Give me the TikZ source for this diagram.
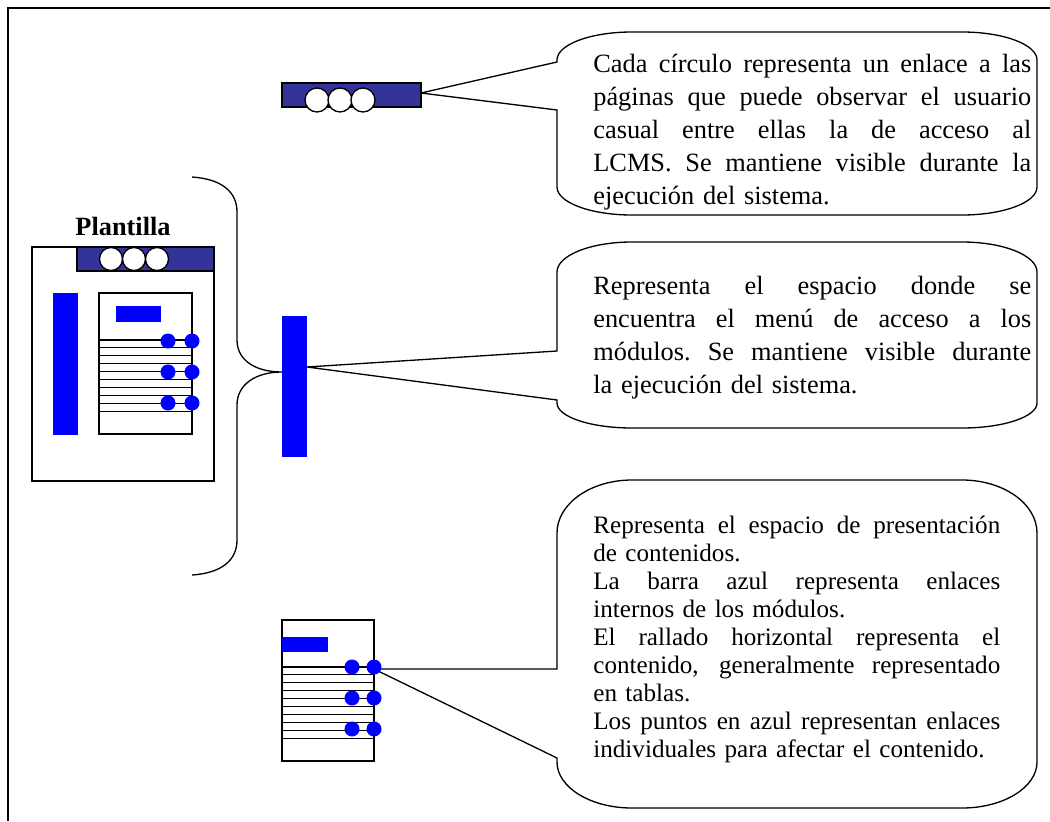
\documentclass[tikz,border=0pt]{standalone}
\usepackage{fontspec}
\setmainfont{Liberation Serif}
\definecolor{barblue}{HTML}{333399}
\definecolor{linkblue}{HTML}{0000FF}
\newlength{\bubblewidth}
\newcommand{\justline}[1]{\leavevmode\hbox to \bubblewidth{\spaceskip=.25em plus 1fil\xspaceskip=.25em plus 1fil\relax #1}}
\tikzset{
  calltext/.style={anchor=north west, inner sep=0pt, align=left, text width=#1,
    execute at begin node={\setlength{\bubblewidth}{#1}}, font=\fontsize{15}{18.7}\selectfont},
  bubble/.style={draw, fill=white, line width=0.75pt},
  pageframe/.style={draw, line width=0.9pt},
  stripe/.style={line width=0.6pt},
  navdot/.style={draw, fill=white, line width=0.75pt},
}
\begin{document}
\begin{tikzpicture}[x=0.02cm, y=-0.02cm]

    \useasboundingbox (0,0) rectangle (1050,821);
    \draw[line width=1.4pt] (1050,8) -- (8,8) -- (8,821);

    % tips of the callouts
    \coordinate (navtip) at (421,93);
    \coordinate (menutip) at (307,367);
    \coordinate (contip) at (374,669);

    % callouts
    \draw[bubble] (557,60) .. controls (557,44.5) and (590.6,32) .. (632,32) -- (962,32)
        .. controls (1003.4,32) and (1037,44.5) .. (1037,60) -- (1037,187)
        .. controls (1037,202.5) and (1003.4,215) .. (962,215) -- (632,215)
        .. controls (590.6,215) and (557,202.5) .. (557,187) -- (557,110) -- (navtip) -- (557,62) -- cycle;
    \node[calltext=8.76cm] (navtext) at (593,54) {%
        \justline{Cada círculo representa un enlace a las}\\
        \justline{páginas que puede observar el usuario}\\
        \justline{casual entre ellas la de acceso al}\\
        \justline{LCMS. Se mantiene visible durante la}\\
        ejecución del sistema.};

    \draw[bubble] (557,272) .. controls (557,255.4) and (590.6,242) .. (632,242) -- (962,242)
        .. controls (1003.4,242) and (1037,255.4) .. (1037,272) -- (1037,403)
        .. controls (1037,416.8) and (1003.4,428) .. (962,428) -- (632,428)
        .. controls (590.6,428) and (557,416.8) .. (557,403) -- (557,400) -- (menutip) -- (557,351) -- cycle;
    \node[calltext=8.76cm] (menutext) at (593,276) {%
        \justline{Representa el espacio donde se}\\
        \justline{encuentra el menú de acceso a los}\\
        \justline{módulos. Se mantiene visible durante}\\
        la ejecución del sistema.};

    \draw[bubble] (557,533) .. controls (557,503.7) and (590.6,480) .. (632,480) -- (962,480)
        .. controls (1003.4,480) and (1037,503.7) .. (1037,533) -- (1037,762)
        .. controls (1037,787.4) and (1003.4,808) .. (962,808) -- (632,808)
        .. controls (590.6,808) and (557,787.4) .. (557,762) -- (557,758) -- (contip) -- (557,669) -- cycle;
    \node[calltext=8.14cm, font=\fontsize{14.3}{15.9}\selectfont] (context) at (593,516) {%
        \justline{Representa el espacio de presentación}\\
        de contenidos.\\
        \justline{La barra azul representa enlaces}\\
        internos de los módulos.\\
        \justline{El rallado horizontal representa el}\\
        \justline{contenido, generalmente representado}\\
        en tablas.\\
        \justline{Los puntos en azul representan enlaces}\\
        individuales para afectar el contenido.};

    % plantilla
    \node[font=\fontsize{15}{18}\selectfont\bfseries] (title) at (123,226) {Plantilla};
    \draw[pageframe] (32,247) rectangle (214,481);
    \draw[pageframe, fill=barblue] (77,247) rectangle (214,271);
    \foreach \cx in {111,134,157}
        \draw[navdot] (\cx,259) circle (11.5);
    \fill[linkblue] (53,293) rectangle (78,435);
    \draw[pageframe] (99,293) rectangle (192,434);
    \fill[linkblue] (116,306) rectangle (161,322);
    \foreach \k in {0,...,9}
        \draw[stripe] (99,340+7.9*\k) -- (192,340+7.9*\k);
    \foreach \r in {341,372,403} {
        \fill[linkblue] (168,\r) circle (7.5);
        \fill[linkblue] (192,\r) circle (7.5);
    }

    % brace
    \draw[line width=0.75pt] (192,177) .. controls (222,179) and (237,192) .. (237,212) -- (237,340)
        .. controls (237,360) and (255,372) .. (282,372)
        .. controls (255,372) and (237,385) .. (237,405) -- (237,540)
        .. controls (237,560) and (222,573) .. (192,575);

    % navigation bar
    \draw[pageframe, fill=barblue] (282,83) rectangle (421,107);
    \foreach \cx in {317,340,363}
        \draw[navdot] (\cx,100) circle (12);

    % menu bar
    \fill[linkblue] (282,316) rectangle (307,457);

    % content page
    \draw[pageframe] (282,620) rectangle (374,761);
    \fill[linkblue] (282,637) rectangle (328,652);
    \foreach \k in {0,...,9}
        \draw[stripe] (282,667+7.9*\k) -- (374,667+7.9*\k);
    \foreach \r in {667,698,729} {
        \fill[linkblue] (352,\r) circle (7.5);
        \fill[linkblue] (374,\r) circle (7.5);
    }

\end{tikzpicture}
\end{document}
